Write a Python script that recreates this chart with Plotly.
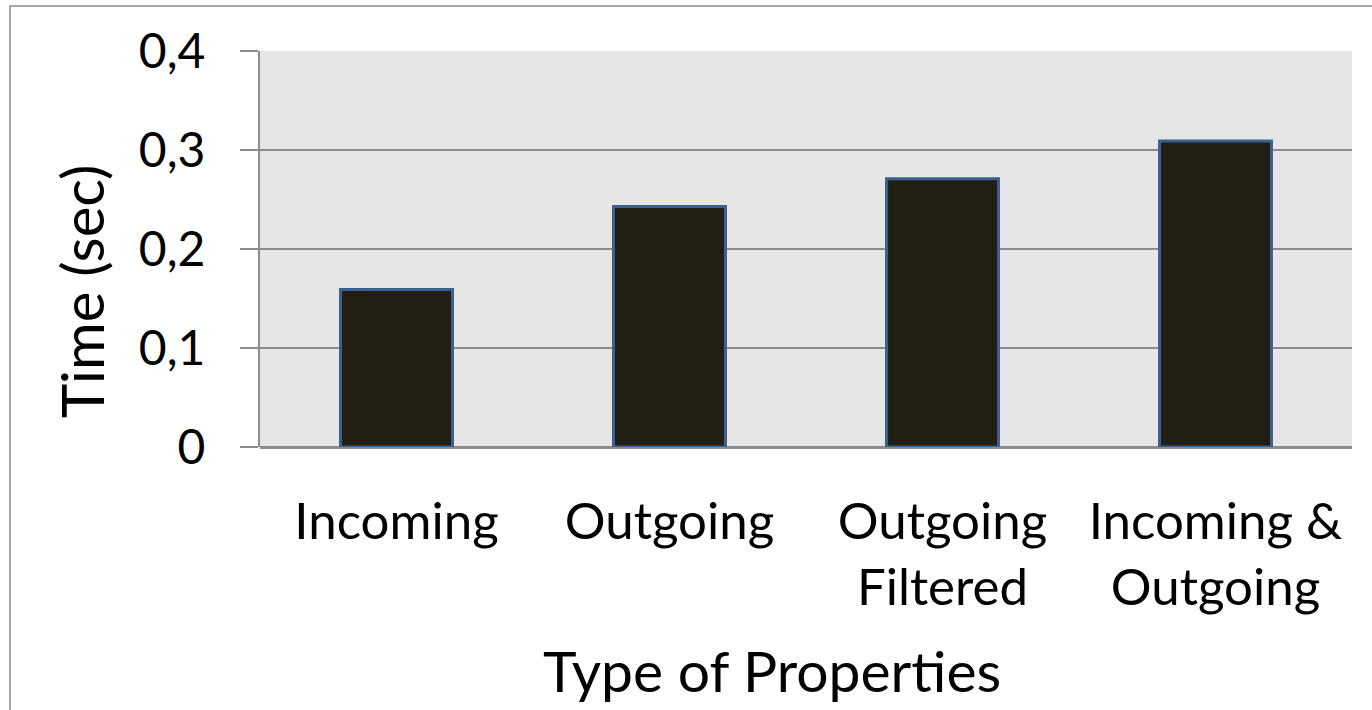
import plotly.graph_objects as go

categories = ["Incoming", "Outgoing", "Outgoing<br>Filtered", "Incoming &<br>Outgoing"]
times_sec = [0.159, 0.243, 0.271, 0.309]
y_ticks = [0, 0.1, 0.2, 0.3, 0.4]
y_tick_labels = ["0", "0,1", "0,2", "0,3", "0,4"]

W, H = 1372, 710
L, R, T, B = 260, 20, 51, 263
pw, ph = W - L - R, H - T - B

fig = go.Figure(
    go.Bar(
        x=categories,
        y=times_sec,
        width=0.41,
        marker=dict(color="#211f14", line=dict(color="#3b5f8e", width=3)),
    )
)

font = "Lato, 'Open Sans', sans-serif"
fig.update_layout(
    width=W,
    height=H,
    margin=dict(l=L, r=R, t=T, b=B),
    paper_bgcolor="white",
    plot_bgcolor="#e6e6e6",
    showlegend=False,
    font=dict(family=font, size=44, color="black"),
    separators=",.",
    xaxis=dict(
        showgrid=False,
        showline=False,
        ticks="",
        tickfont=dict(size=51),
        ticklabelstandoff=40,
    ),
    yaxis=dict(
        range=[0, 0.4],
        tickvals=y_ticks,
        ticktext=y_tick_labels,
        showgrid=True,
        gridcolor="#8c8c8c",
        gridwidth=2,
        zeroline=True,
        zerolinecolor="#8c8c8c",
        zerolinewidth=3,
        showline=True,
        linecolor="#8c8c8c",
        linewidth=2,
        ticks="outside",
        ticklen=18,
        tickwidth=2,
        tickcolor="#8c8c8c",
        tickfont=dict(size=48),
        ticklabelstandoff=25,
    ),
)

# Axis titles
fig.add_annotation(
    text="Type of Properties",
    xref="paper", yref="paper",
    x=(772 - L) / pw, y=-(670 - T - ph) / ph,
    showarrow=False, font=dict(size=57),
    xanchor="center", yanchor="middle",
)
fig.add_annotation(
    text="Time (sec)",
    xref="paper", yref="paper",
    x=(81 - L) / pw, y=1 - (291 - T) / ph,
    showarrow=False, font=dict(size=58), textangle=-90,
    xanchor="center", yanchor="middle",
)

# Outer chart frame (left and top edges visible)
fig.add_shape(
    type="rect",
    xref="paper",
    yref="paper",
    x0=(10 - L) / pw,
    x1=(W + 20 - L) / pw,
    y0=-(H + 20 - T - ph) / ph,
    y1=1 + (T - 6) / ph,
    line=dict(color="#a6a6a6", width=2),
    fillcolor="rgba(0,0,0,0)",
    layer="below",
)

fig.write_html("out.html")
